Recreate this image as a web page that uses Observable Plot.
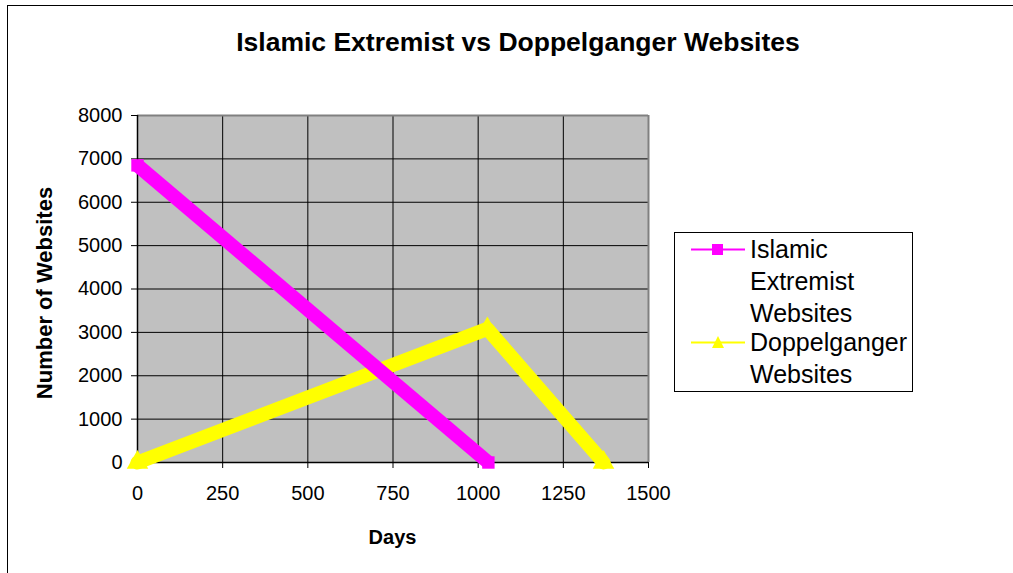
<!DOCTYPE html>
<html>
<head>
<meta charset="utf-8">
<script src="https://cdn.jsdelivr.net/npm/d3@7"></script>
<script src="https://cdn.jsdelivr.net/npm/@observablehq/plot@0.6"></script>
<style>
  html, body { margin: 0; padding: 0; background: #fff; }
  body { font-family: "Liberation Sans", Arial, sans-serif; }
  #wrap { position: relative; width: 1013px; height: 573px; overflow: hidden; }
  #wrap svg { position: absolute; left: 0; top: 0; }
  .border { position: absolute; left: 7px; top: 5px; width: 1100px; height: 700px; border: 1px solid #000; box-sizing: border-box; pointer-events: none; }
  .title { position: absolute; left: 0; width: 1036px; top: 27px; text-align: center; font-weight: bold; font-size: 26.5px; color: #000; }
  .xtitle { position: absolute; left: 137px; width: 511px; top: 526px; text-align: center; font-weight: bold; font-size: 20px; }
  .ytitle { position: absolute; left: 45px; top: 293px; transform: translate(-50%, -50%) rotate(-90deg); white-space: nowrap; font-weight: bold; font-size: 22px; }
  .legend { position: absolute; left: 674px; top: 232px; width: 239px; height: 160px; border: 1px solid #000; box-sizing: border-box; background: #fff; }
  .legend .txt { position: absolute; left: 75px; font-size: 25px; line-height: 19px; white-space: nowrap; }
</style>
</head>
<body>
<div id="wrap"></div>
<script>
// Data
const title = "Islamic Extremist vs Doppelganger Websites";
const xLabel = "Days";
const yLabel = "Number of Websites";
const xTicks = [0, 250, 500, 750, 1000, 1250, 1500];
const yTicks = [0, 1000, 2000, 3000, 4000, 5000, 6000, 7000, 8000];
const seriesColors = ["#FF00FF", "#FFFF00"];
const islamicDays = [0, 1030];
const islamicValues = [6850, 0];
const doppelDays = [0, 1027, 1368];
const doppelValues = [0, 3080, 0];
const legendLines = [["Islamic", "Extremist", "Websites"], ["Doppelganger", "Websites"]];

const islamic = islamicDays.map((d, i) => ({x: d, y: islamicValues[i]}));
const doppel = doppelDays.map((d, i) => ({x: d, y: doppelValues[i]}));

const chart = Plot.plot({
  width: 1013,
  height: 573,
  marginLeft: 137,
  marginRight: 365,
  marginTop: 115,
  marginBottom: 111,
  style: {fontFamily: '"Liberation Sans", Arial, sans-serif', background: "transparent", color: "#000"},
  x: {domain: [0, 1500]},
  y: {domain: [0, 8000]},
  marks: [
    Plot.frame({fill: "#C0C0C0", stroke: "none"}),
    Plot.gridX(xTicks, {stroke: "#000", strokeOpacity: 1, strokeWidth: 1}),
    Plot.gridY(yTicks, {stroke: "#000", strokeOpacity: 1, strokeWidth: 1}),
    Plot.ruleY([8000], {stroke: "#808080", strokeWidth: 2}),
    Plot.ruleX([1500], {stroke: "#808080", strokeWidth: 2}),
    Plot.ruleY([0], {stroke: "#000", strokeWidth: 1.5}),
    Plot.ruleX([0], {stroke: "#000", strokeWidth: 1.5}),
    Plot.axisX({ticks: xTicks, tickSize: 6, tickPadding: 17, fontSize: 20, label: null, tickFormat: d => String(d)}),
    Plot.axisY({ticks: yTicks, tickSize: 6, tickPadding: 9, fontSize: 20, label: null, tickFormat: d => String(d)}),
    Plot.line(doppel, {x: "x", y: "y", stroke: seriesColors[1], strokeWidth: 14, strokeLinejoin: "round", strokeLinecap: "round"}),
    Plot.dot(doppel, {x: "x", y: "y", symbol: "triangle", r: 8, fill: seriesColors[1], stroke: "none"}),
    Plot.line(islamic, {x: "x", y: "y", stroke: seriesColors[0], strokeWidth: 14, strokeLinejoin: "round", strokeLinecap: "butt"}),
    Plot.dot(islamic, {x: "x", y: "y", symbol: "square", r: 7, fill: seriesColors[0], stroke: "none"})
  ]
});

const wrap = document.getElementById("wrap");
wrap.appendChild(chart);

function div(cls, text) {
  const d = document.createElement("div");
  d.className = cls;
  if (text != null) d.textContent = text;
  wrap.appendChild(d);
  return d;
}
div("title", title);
div("xtitle", xLabel);
div("ytitle", yLabel);
div("border");

// Legend
const legend = div("legend");
const rowTops = [0, 93];
const symbols = ["square", "triangle"];
legendLines.forEach((lines, i) => {
  const top = rowTops[i];
  const sw = d3.create("svg").attr("width", 70).attr("height", 33)
    .style("position", "absolute").style("left", "14px").style("top", top + "px");
  sw.append("line").attr("x1", 2).attr("x2", 56).attr("y1", 16.5).attr("y2", 16.5)
    .attr("stroke", seriesColors[i]).attr("stroke-width", 2);
  if (symbols[i] === "square") {
    sw.append("rect").attr("x", 23).attr("y", 11).attr("width", 11).attr("height", 11).attr("fill", seriesColors[i]);
  } else {
    sw.append("path").attr("d", "M29,10 L35,22 L23,22 Z").attr("fill", seriesColors[i]);
  }
  legend.appendChild(sw.node());
  lines.forEach((t, j) => {
    const d = document.createElement("div");
    d.className = "txt";
    d.style.top = (top + 7 + j * 32) + "px";
    d.textContent = t;
    legend.appendChild(d);
  });
});
</script>
</body>
</html>
